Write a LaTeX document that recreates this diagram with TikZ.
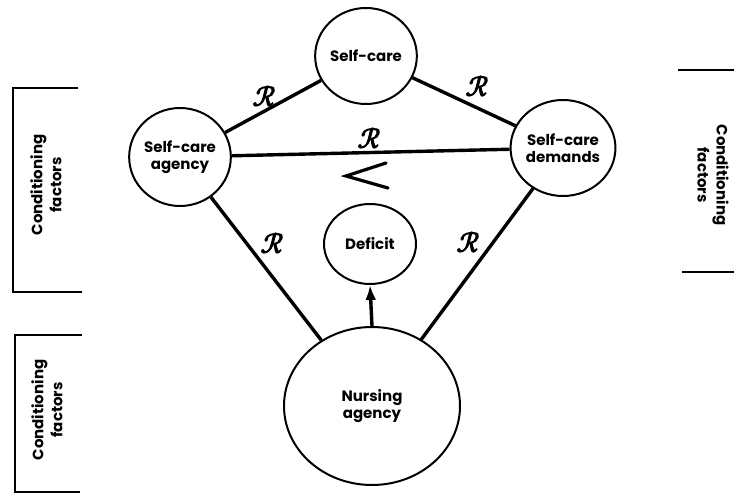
\documentclass[tikz,border=0pt]{standalone}
\usepackage{fontspec}
\setmainfont{Poppins}
\newfontfamily\scrfont{Latin Modern Math}[FakeBold=4]
\usetikzlibrary{shapes.geometric,arrows.meta}
\newcommand{\relR}{{\scrfont ℛ}}
\begin{document}
\begin{tikzpicture}[x=1pt,y=-1pt,
  bub/.style={draw, line width=2pt, ellipse, inner sep=0pt, align=center,
    font=\fontsize{15}{17}\selectfont\bfseries},
  con/.style={line width=3.4pt},
  rel/.style={font=\fontsize{28}{28}\selectfont, inner sep=0pt},
  cond/.style={align=center, font=\fontsize{15}{19}\selectfont\bfseries, inner sep=0pt},
  brk/.style={line width=1.8pt}]
\useasboundingbox[fill=white] (0,0) rectangle (734,494);

% circles
\node[bub, minimum width=100pt, minimum height=96pt] (sc)  at (366,56)  {Self-care};
\node[bub, minimum width=100pt, minimum height=98pt] (sca) at (180,157) {Self-care\\agency};
\node[bub, minimum width=98pt,  minimum height=96pt] (scd) at (563,148) {Self-care\\demands};
\node[bub, minimum width=92pt,  minimum height=80pt] (def) at (370,244) {Deficit};
\node[bub, minimum width=176pt, minimum height=158pt] (na) at (372,406) {Nursing\\agency};

% connectors
\draw[con] (sca) -- (sc);
\draw[con] (sc) -- (scd);
\draw[con] (sca) -- (scd);
\draw[con] (sca) -- (na);
\draw[con] (scd) -- (na);
\draw[con, -{Latex[length=15pt,width=11pt]}] (na.north) -- (def.south);

% relation labels
\node[rel] (r1) at (264,96)  {\relR};
\node[rel] (r2) at (477,86)  {\relR};
\node[rel] (r3) at (369,138) {\relR};
\node[rel] (r4) at (272,243) {\relR};
\node[rel] (r5) at (468,242) {\relR};

% less-than sign
\draw[line width=3.2pt, line cap=round, line join=miter] (386,163) -- (346,176) -- (388,188);

% brackets
\draw[brk] (78,88) -- (13,88) -- (13,292) -- (82,292);
\draw[brk] (82,335) -- (15,335) -- (15,492) -- (80,492);
\draw[brk] (678,70) -- (734,70);
\draw[brk] (682,272) -- (734,272);

% conditioning factors
\node[cond, rotate=90]  (c1) at (46,185) {Conditioning\\factors};
\node[cond, rotate=90]  (c2) at (47,410) {Conditioning\\factors};
\node[cond, rotate=-90] (c3) at (713,175) {Conditioning\\factors};
\end{tikzpicture}
\end{document}
